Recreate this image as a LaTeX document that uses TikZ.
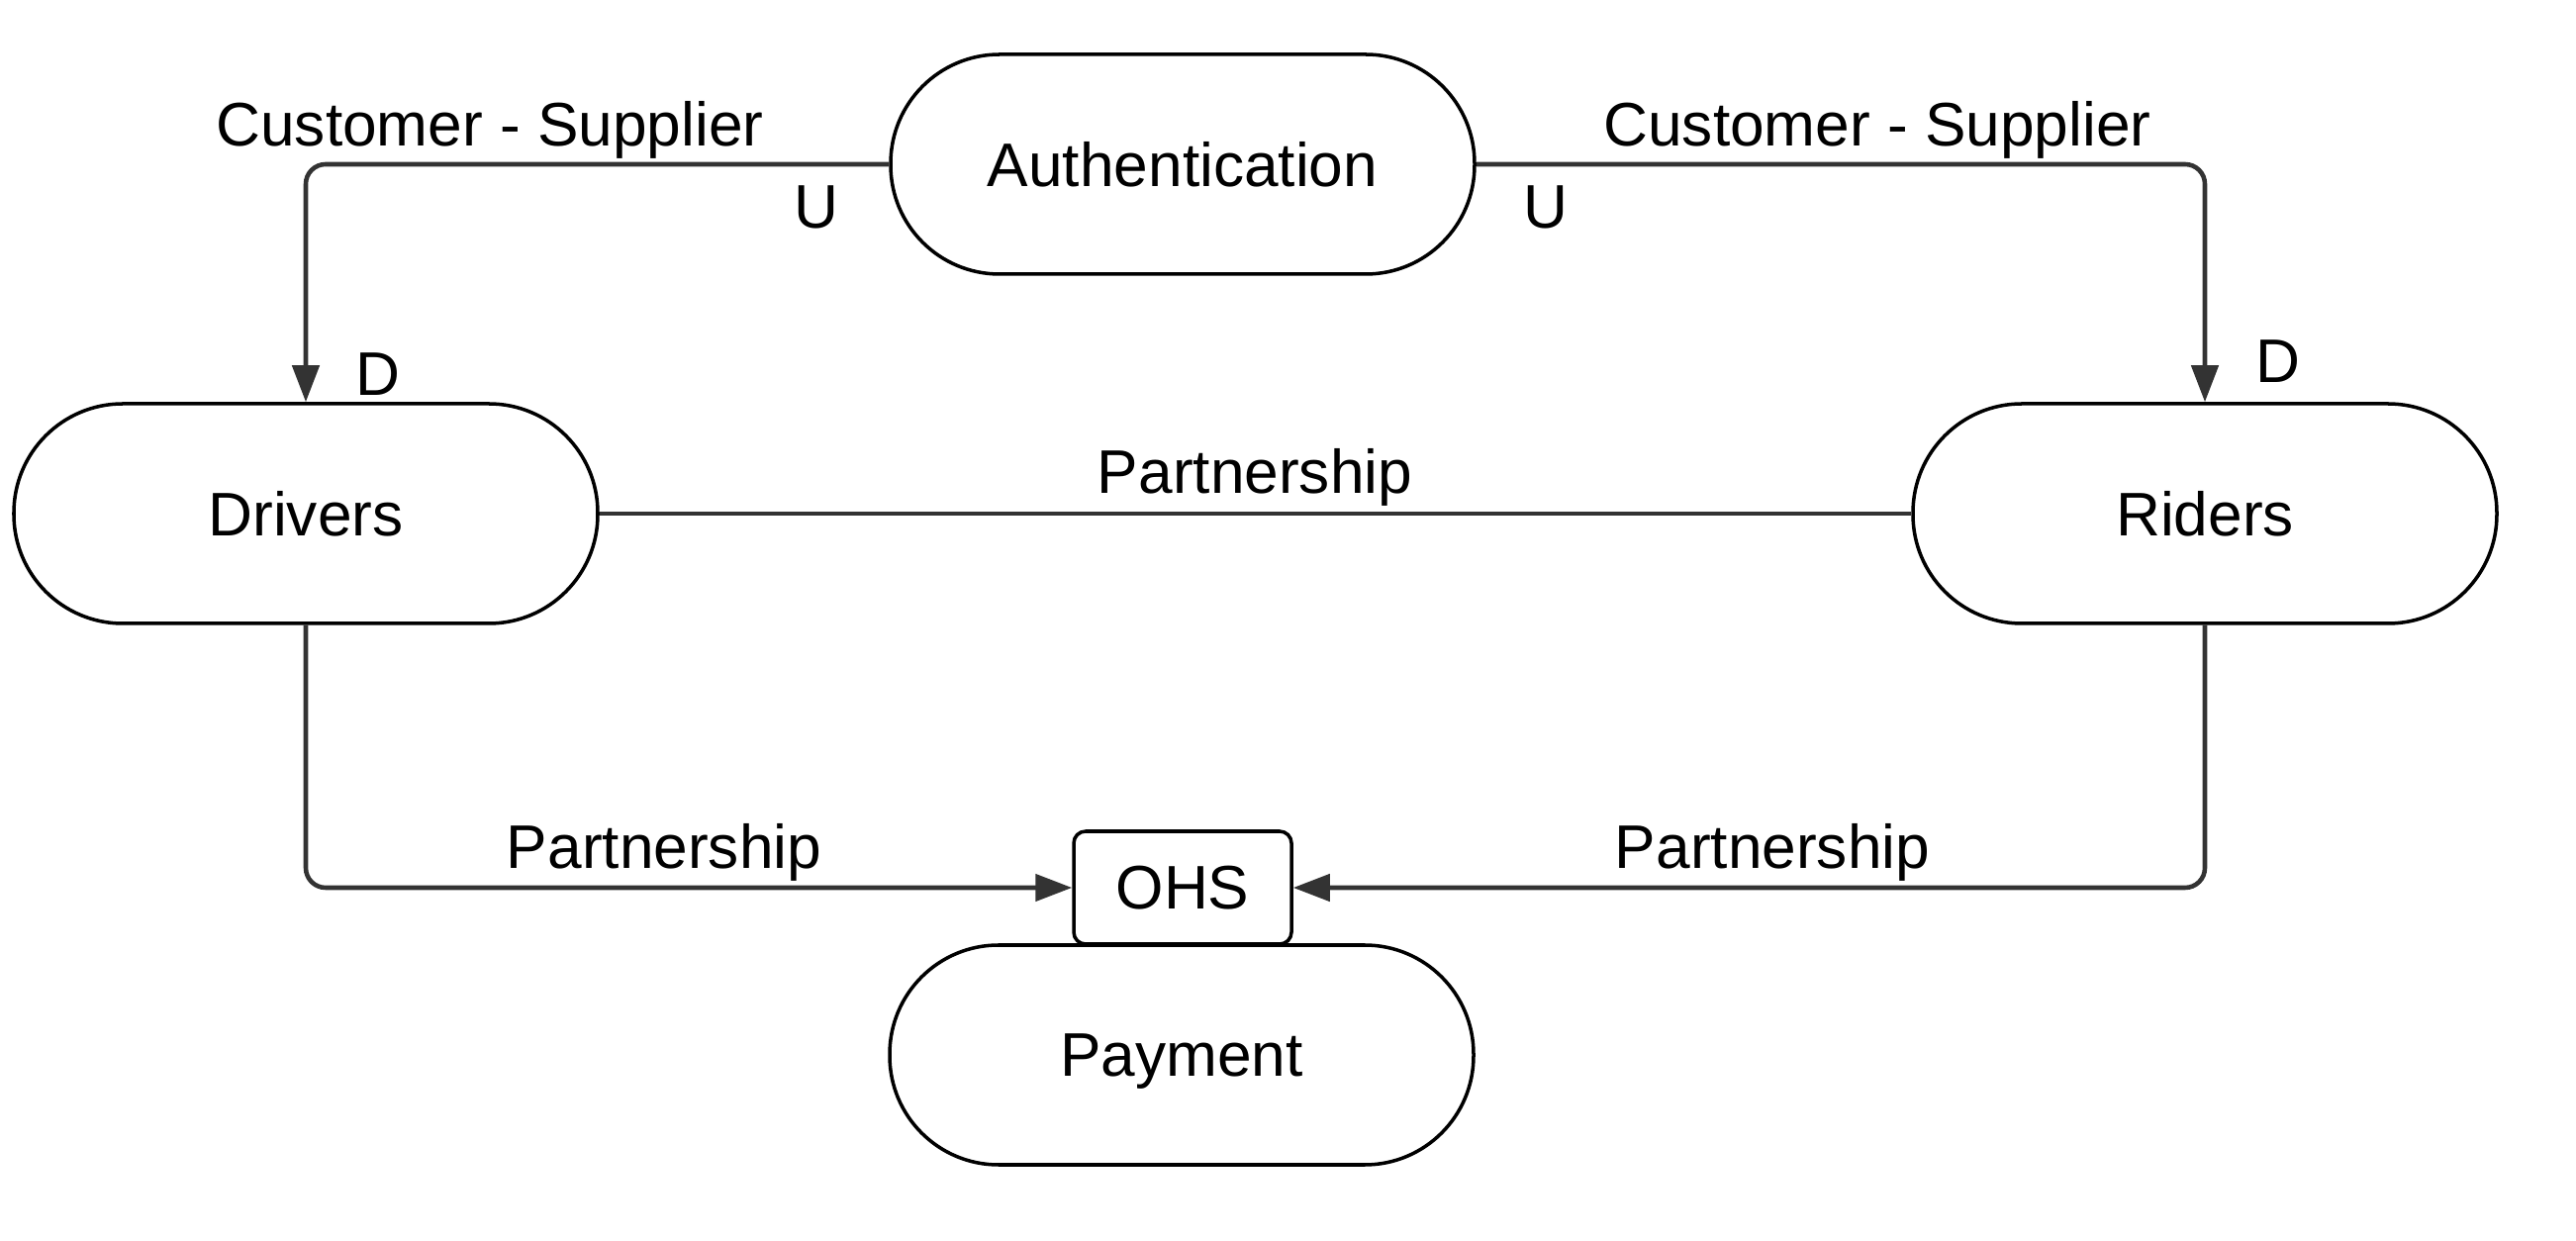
\documentclass[tikz,border=0pt]{standalone}
\usepackage{fontspec}
\setmainfont{Liberation Sans}
\usepackage{tikz}
\usetikzlibrary{arrows.meta}

\begin{document}
\begin{tikzpicture}[
    context/.style={draw=black, line width=1pt, fill=white, rounded corners=1.1cm,
        minimum width=5.9cm, minimum height=2.22cm, text depth=0pt,
        font=\fontsize{17.7}{21}\selectfont},
    hostbox/.style={draw=black, line width=1pt, fill=white, rounded corners=0.12cm,
        minimum width=2.2cm, minimum height=1.14cm, text depth=0pt,
        font=\fontsize{17.7}{21}\selectfont},
    link/.style={draw=black!80, line width=1.3pt, rounded corners=0.2cm},
    tag/.style={text depth=0pt, font=\fontsize{17.7}{21}\selectfont}
]
        \useasboundingbox (0,0) rectangle (26.03,-12.54);
        \node[context] (auth) at (11.95,-1.66) {Authentication};
        \node[context] (drivers) at (3.09,-5.19) {Drivers};
        \node[context] (riders) at (22.28,-5.19) {Riders};
        \node[context] (payment) at (11.94,-10.66) {Payment};
        \node[hostbox] (ohs) at (11.95,-8.97) {OHS};
        \draw[link, -{Triangle[length=0.37cm, width=0.27cm]}] (auth.west) -| (drivers.north);
        \draw[link, -{Triangle[length=0.37cm, width=0.27cm]}] (auth.east) -| (riders.north);
        \draw[link] (drivers.east) -- (riders.west);
        \draw[link, -{Triangle[length=0.37cm, width=0.27cm]}] (drivers.south) |- (ohs.west);
        \draw[link, -{Triangle[length=0.37cm, width=0.27cm]}] (riders.south) |- (ohs.east);
        \node[tag] (csleft) at (4.95,-1.25) {Customer - Supplier};
        \node[tag] (csright) at (18.97,-1.25) {Customer - Supplier};
        \node[tag] (uleft) at (8.25,-2.09) {U};
        \node[tag] (uright) at (15.62,-2.09) {U};
        \node[tag] (dleft) at (3.82,-3.78) {D};
        \node[tag] (dright) at (23.02,-3.65) {D};
        \node[tag] (pmid) at (12.68,-4.76) {Partnership};
        \node[tag] (pleft) at (6.71,-8.55) {Partnership};
        \node[tag] (pright) at (17.91,-8.55) {Partnership};
    \end{tikzpicture}
\end{document}
